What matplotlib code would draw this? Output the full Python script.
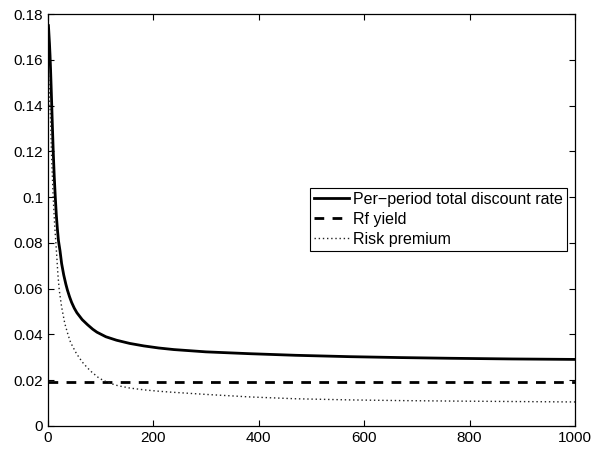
import numpy as np
import matplotlib
matplotlib.use("Agg")
import matplotlib.pyplot as plt
from matplotlib.ticker import FuncFormatter

plt.rcParams['font.family'] = ['Liberation Sans', 'DejaVu Sans']

# values
total_t = [1, 2, 3, 4, 5, 6, 7, 8.5, 10, 12, 14, 16, 18, 20, 23, 26, 30, 34, 37, 41, 45,
           50, 55, 65, 75, 85, 93, 110, 130, 155, 182, 210, 239, 300, 383, 470, 573,
           670, 763, 880, 1000]
total_rate = [0.175, 0.171, 0.167, 0.162, 0.156, 0.149, 0.142, 0.131, 0.1205, 0.109,
              0.100, 0.092, 0.086, 0.081, 0.0765, 0.071, 0.066, 0.062, 0.0594, 0.0565,
              0.054, 0.0515, 0.0495, 0.0465, 0.0443, 0.0423, 0.0410, 0.0390, 0.0375,
              0.0361, 0.0350, 0.0341, 0.0334, 0.0324, 0.0316, 0.0309, 0.0303, 0.0299,
              0.0296, 0.0293, 0.0291]

rf_t = [1, 1000]
rf_yield = [0.0194, 0.0194]

prem_t = [1, 2, 3, 5, 7, 10, 13, 16, 19, 21.5, 26, 32, 38, 43, 54, 65, 75, 83, 95,
          105, 120, 133, 155, 182, 210, 233, 300, 383, 470, 573, 670, 763, 880, 1000]
premium = [0.155, 0.150, 0.145, 0.134, 0.118, 0.100, 0.087, 0.077, 0.066, 0.0594,
           0.052, 0.0448, 0.040, 0.0365, 0.0317, 0.0280, 0.0254, 0.0236, 0.0213,
           0.0199, 0.0185, 0.0176, 0.0166, 0.0158, 0.0152, 0.0148, 0.0138, 0.0127,
           0.0119, 0.0114, 0.0111, 0.0109, 0.0107, 0.0105]

x_ticks = [0, 200, 400, 600, 800, 1000]
y_ticks = [0, 0.02, 0.04, 0.06, 0.08, 0.1, 0.12, 0.14, 0.16, 0.18]

fig = plt.figure(figsize=(5.99, 4.54), dpi=100)
ax = fig.add_axes([0.080, 0.0617, 0.880, 0.907])

ax.plot(total_t, total_rate, color='black', lw=2, label='Per\u2212period total discount rate')
ax.plot(rf_t, rf_yield, color='black', lw=2, ls=(0, (3.5, 3)), label='Rf yield')
ax.plot(prem_t, premium, color='#222222', lw=1, ls=(0, (1, 2)), label='Risk premium')

ax.set_xlim(0, 1000)
ax.set_ylim(0, 0.18)
ax.set_xticks(x_ticks)
ax.set_yticks(y_ticks)
ax.yaxis.set_major_formatter(FuncFormatter(lambda v, p: '%g' % round(v, 2)))
ax.tick_params(direction='in', top=True, right=True, labelsize=11, length=4, width=0.8)
for s in ax.spines.values():
    s.set_linewidth(0.9)

leg = ax.legend(loc='upper right', bbox_to_anchor=(0.985, 0.578), fontsize=11.5,
                frameon=True, fancybox=False, edgecolor='black', framealpha=1,
                handlelength=2.2, handletextpad=0.25, labelspacing=0.3,
                borderpad=0.25, borderaxespad=0)
leg.get_frame().set_linewidth(0.8)

fig.savefig('out.png', dpi=100)
